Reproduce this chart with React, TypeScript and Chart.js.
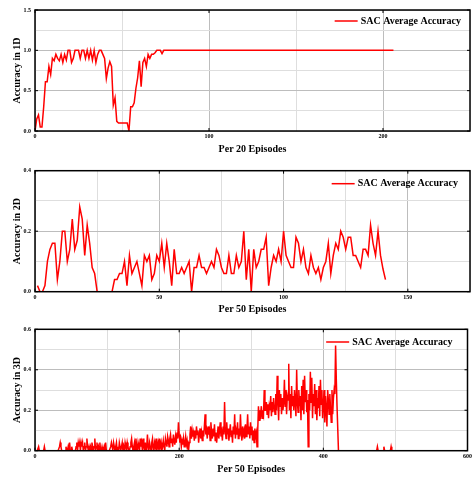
import React, { useEffect, useRef } from 'react';
import { Chart, registerables } from 'chart.js';

Chart.register(...registerables);

const SERIES_LABEL = 'SAC Average Accuracy';

// ---- 1D: accuracy per 20 episodes (x starts at 0) ----
const ACC_1D = [
  0, 0.15, 0.2, 0.05, 0.05, 0.3, 0.61, 0.61, 0.8, 0.7,
  0.9, 0.87, 0.95, 0.9, 0.87, 0.95, 0.85, 0.95, 0.88, 1,
  1, 0.85, 0.9, 1, 1, 1, 0.9, 1, 1, 0.9,
  1, 0.9, 1, 0.88, 1, 0.85, 0.95, 1, 1, 0.95,
  0.9, 0.65, 0.78, 0.86, 0.8, 0.32, 0.41, 0.12, 0.1, 0.1,
  0.1, 0.1, 0.1, 0.1, 0, 0.3, 0.3, 0.35, 0.53, 0.66,
  0.87, 0.55, 0.85, 0.9, 0.8, 0.95, 0.9, 0.95, 0.95, 0.97,
  1, 1, 1, 0.96, 1,
  1, 1, 1, 1, 1, 1, 1, 1, 1, 1,
  1, 1, 1, 1, 1, 1, 1, 1, 1, 1,
  1, 1, 1, 1, 1, 1, 1, 1, 1, 1,
  1, 1, 1, 1, 1, 1, 1, 1, 1, 1,
  1, 1, 1, 1, 1, 1, 1, 1, 1, 1,
  1, 1, 1, 1, 1, 1, 1, 1, 1, 1,
  1, 1, 1, 1, 1, 1, 1, 1, 1, 1,
  1, 1, 1, 1, 1, 1, 1, 1, 1, 1,
  1, 1, 1, 1, 1, 1, 1, 1, 1, 1,
  1, 1, 1, 1, 1, 1, 1, 1, 1, 1,
  1, 1, 1, 1, 1, 1, 1, 1, 1, 1,
  1, 1, 1, 1, 1, 1, 1, 1, 1, 1,
  1, 1, 1, 1, 1, 1, 1, 1, 1, 1,
  1, 1,
];
const X_START_1D = 0;

// ---- 2D: accuracy per 50 episodes (x starts at 1) ----
const ACC_2D = [
  0.02, 0, 0, 0.02, 0.1, 0.14, 0.16, 0.16, 0.04, 0.1,
  0.2, 0.2, 0.1, 0.14, 0.24, 0.14, 0.17, 0.28, 0.24, 0.12,
  0.22, 0.16, 0.08, 0.06, 0, 0, 0, 0, 0, 0,
  0, 0.04, 0.04, 0.06, 0.06, 0.1, 0.02, 0.12, 0.06, 0.08,
  0.1, 0.06, 0.02, 0.12, 0.1, 0.12, 0.04, 0.06, 0.12, 0.1,
  0.16, 0.08, 0.16, 0.1, 0.02, 0.14, 0.06, 0.06, 0.08, 0.06,
  0.08, 0.1, 0, 0.08, 0.08, 0.12, 0.08, 0.08, 0.06,
  0.08, 0.1, 0.08, 0.14, 0.12, 0.08, 0.06, 0.06, 0.12, 0.06,
  0.06, 0.12, 0.08, 0.1, 0.2, 0.04, 0.14, 0, 0.14, 0.08,
  0.1, 0.14, 0.14, 0.18, 0.02, 0.08, 0.12, 0.1, 0.14, 0.1,
  0.2, 0.12, 0.1, 0.08, 0.08, 0.18, 0.16, 0.1, 0.14, 0.08,
  0.06, 0.12, 0.08, 0.06, 0.08, 0.04, 0.08, 0.1, 0.16, 0.06,
  0.12, 0.16, 0.14, 0.2, 0.18, 0.14, 0.18, 0.18, 0.12, 0.12,
  0.1, 0.08, 0.14, 0.14, 0.12, 0.22, 0.16, 0.12, 0.2, 0.12,
  0.075, 0.04,
];
const X_START_2D = 1;

// ---- 3D: accuracy per 50 episodes (x starts at 0) ----
const ACC_3D = [
  0, 0, 0, 0, 0, 0.02, 0, 0, 0, 0, 0, 0, 0, 0.02, 0, 0, 0, 0, 0, 0,
  0, 0, 0, 0, 0, 0, 0, 0, 0, 0, 0, 0, 0, 0, 0.02, 0.04, 0.02, 0, 0, 0,
  0, 0, 0, 0.02, 0, 0, 0.02, 0, 0.04, 0, 0, 0.02, 0, 0, 0, 0, 0, 0.02, 0.04, 0,
  0.04, 0.02, 0.04, 0, 0.04, 0.02, 0.04, 0, 0.02, 0.04, 0, 0.02, 0.06, 0.02, 0, 0.02, 0, 0.02, 0, 0.04,
  0.02, 0, 0.02, 0.06, 0, 0.02, 0.04, 0, 0.02, 0, 0.04, 0, 0, 0.02, 0, 0, 0.02, 0, 0.04, 0,
  0, 0, 0, 0, 0, 0.02, 0.04, 0.02, 0, 0.04, 0.02, 0, 0.02, 0.04, 0, 0.02, 0, 0.04, 0.02, 0,
  0.02, 0.04, 0, 0.02, 0, 0.04, 0.02, 0, 0.04, 0.02, 0, 0, 0.02, 0.04, 0.06, 0.02, 0, 0.02, 0.04, 0,
  0.06, 0.02, 0, 0.04, 0.02, 0, 0.06, 0.02, 0.04, 0, 0.06, 0.02, 0, 0.04, 0, 0.02, 0.08, 0.02, 0, 0.04,
  0.02, 0, 0.04, 0.06, 0.02, 0, 0.04, 0.02, 0.06, 0, 0.02, 0.04, 0, 0.06, 0.02, 0.04, 0, 0.02, 0.05, 0.02,
  0, 0.06, 0.04, 0.02, 0.07, 0.05, 0.02, 0.06, 0.08, 0.04, 0.06, 0.02, 0.08, 0.05, 0.03, 0.07, 0.04, 0.09, 0.06, 0.14,
  0.08, 0.04, 0.06, 0.02, 0.05, 0.03, 0.06, 0.02, 0.04, 0.07, 0.03, 0.05, 0.01, 0, 0.04, 0.08, 0.12, 0.06, 0.1, 0.07,
  0.09, 0.05, 0.1, 0.06, 0.12, 0.08, 0.1, 0.04, 0.08, 0.11, 0.06, 0.09, 0.05, 0.1, 0.07, 0.12, 0.18, 0.08, 0.1, 0.06,
  0.12, 0.08, 0.1, 0.05, 0.14, 0.09, 0.06, 0.11, 0.07, 0.13, 0.05, 0.09, 0.04, 0.08, 0.12, 0.06, 0.1, 0.14, 0.07, 0.09,
  0.05, 0.12, 0.08, 0.24, 0.1, 0.06, 0.14, 0.08, 0.11, 0.05, 0.09, 0.13, 0.07, 0.1, 0.04, 0.12, 0.08, 0.18, 0.06, 0.1,
  0.08, 0.14, 0.06, 0.11, 0.07, 0.18, 0.09, 0.05, 0.12, 0.08, 0.1, 0.06, 0.13, 0.07, 0.1, 0.18, 0.08, 0.12, 0.06, 0.14,
  0.08, 0.12, 0.05, 0.1, 0.04, 0.11, 0.07, 0.09, 0.02, 0.1, 0.22, 0.15, 0.2, 0.18, 0.22, 0.16, 0.2, 0.18, 0.3, 0.2,
  0.2, 0.24, 0.18, 0.23, 0.16, 0.22, 0.2, 0.27, 0.17, 0.24, 0.19, 0.26, 0.22, 0.18, 0.28, 0.2, 0.37, 0.25, 0.15, 0.3,
  0.22, 0.28, 0.18, 0.26, 0.2, 0.24, 0.35, 0.22, 0.3, 0.18, 0.27, 0.25, 0.43, 0.2, 0.28, 0.16, 0.32, 0.22, 0.27, 0.2,
  0.3, 0.24, 0.17, 0.4, 0.24, 0.19, 0.3, 0.22, 0.27, 0.15, 0.32, 0.2, 0.35, 0.18, 0.37, 0.24, 0.3, 0.19, 0.25, 0.02,
  0.28, 0.2, 0.39, 0.24, 0.36, 0.16, 0.28, 0.22, 0.33, 0.18, 0.3, 0.15, 0.26, 0.21, 0.32, 0.17, 0.35, 0.23, 0.3, 0.16,
  0.22, 0.3, 0.14, 0.27, 0.2, 0.12, 0.3, 0.25, 0.18, 0.28, 0.21, 0.14, 0.3, 0.18, 0.26, 0.3, 0.28, 0.52, 0.35, 0.22,
  0.22, 0, 0, 0, 0, 0, 0, 0, 0, 0, 0, 0, 0, 0, 0, 0, 0, 0, 0, 0,
  0, 0, 0, 0, 0, 0, 0, 0, 0, 0, 0, 0, 0, 0, 0, 0, 0, 0, 0, 0,
  0, 0, 0, 0, 0, 0, 0, 0, 0, 0, 0, 0, 0, 0, 0, 0.02, 0, 0, 0, 0,
  0, 0, 0, 0, 0.02, 0, 0, 0, 0, 0, 0, 0, 0, 0, 0.02, 0,
];
const X_START_3D = 0;

// ---- axes: ranges, grid steps and labelled ticks ----
const X_MAX_1D = 250, X_STEP_1D = 50, X_LABELS_1D = [0, 100, 200];
const Y_MAX_1D = 1.5, Y_STEP_1D = 0.25, Y_LABELS_1D = [0, 0.5, 1.0, 1.5];
const X_MAX_2D = 175, X_STEP_2D = 25, X_LABELS_2D = [0, 50, 100, 150];
const Y_MAX_2D = 0.4, Y_STEP_2D = 0.1, Y_LABELS_2D = [0, 0.2, 0.4];
const X_MAX_3D = 600, X_STEP_3D = 100, X_LABELS_3D = [0, 200, 400, 600];
const Y_MAX_3D = 0.6, Y_STEP_3D = 0.1, Y_LABELS_3D = [0, 0.2, 0.4, 0.6];

const X_TITLES = ['Per 20 Episodes', 'Per 50 Episodes', 'Per 50 Episodes'];
const Y_TITLES = ['Accuracy in 1D', 'Accuracy in 2D', 'Accuracy in 3D'];

const FONT = '"Liberation Serif", "Times New Roman", serif';
const RED = '#ff0000';

const hasTick = (arr: number[], v: number) => arr.some((t) => Math.abs(t - v) < 1e-6);

const framePlugin = {
  id: 'frame',
  afterDatasetsDraw(chart: any) {
    const { ctx, chartArea: a, scales } = chart;
    const opts = chart.options.plugins.frame;
    ctx.save();
    ctx.strokeStyle = '#000';
    ctx.lineWidth = 1;
    ctx.beginPath();
    const tl = 3;
    opts.xLabels.forEach((v: number) => {
      const px = scales.x.getPixelForValue(v);
      ctx.moveTo(px, a.bottom); ctx.lineTo(px, a.bottom - tl);
      ctx.moveTo(px, a.top); ctx.lineTo(px, a.top + tl);
    });
    opts.yLabels.forEach((v: number) => {
      const py = scales.y.getPixelForValue(v);
      ctx.moveTo(a.left, py); ctx.lineTo(a.left + tl, py);
      ctx.moveTo(a.right, py); ctx.lineTo(a.right - tl, py);
    });
    ctx.stroke();
    ctx.lineWidth = 1.5;
    ctx.strokeRect(a.left, a.top, a.right - a.left, a.bottom - a.top);
    ctx.restore();
  },
};

const legendPlugin = {
  id: 'insideLegend',
  afterDraw(chart: any) {
    const { ctx, chartArea: a } = chart;
    const opts = chart.options.plugins.insideLegend;
    const ds = chart.data.datasets[0];
    ctx.save();
    ctx.font = `bold ${opts.size}px ${FONT}`;
    ctx.textBaseline = 'middle';
    ctx.textAlign = 'left';
    const tw = ctx.measureText(ds.label).width;
    const tx = a.right - opts.right - tw;
    const y = a.top + opts.dy;
    ctx.strokeStyle = ds.borderColor;
    ctx.lineWidth = 1.5;
    ctx.beginPath();
    ctx.moveTo(tx - 3 - 23, y);
    ctx.lineTo(tx - 3, y);
    ctx.stroke();
    ctx.fillStyle = '#000';
    ctx.fillText(ds.label, tx, y);
    ctx.restore();
  },
};

type Spec = {
  values: number[]; xStart: number;
  xMax: number; xStep: number; xLabels: number[];
  yMax: number; yStep: number; yLabels: number[];
  xTitle: string; yTitle: string;
  padTop: number; xAxisHeight: number; titlePadBottom: number;
  legendRight: number; legendDy: number;
};

function makeConfig(s: Spec): any {
  return {
    type: 'line',
    data: {
      datasets: [{
        label: SERIES_LABEL,
        data: s.values.map((y, i) => ({ x: i + s.xStart, y })),
        borderColor: RED,
        backgroundColor: RED,
        borderWidth: 1.5,
        pointRadius: 0,
        tension: 0,
        fill: false,
      }],
    },
    options: {
      animation: false,
      responsive: false,
      devicePixelRatio: 1,
      events: [],
      layout: { padding: { top: s.padTop, right: 4, left: 0, bottom: 0 } },
      plugins: {
        legend: { display: false },
        tooltip: { enabled: false },
        frame: { xLabels: s.xLabels, yLabels: s.yLabels },
        insideLegend: { size: 10, right: s.legendRight, dy: s.legendDy },
      },
      scales: {
        x: {
          type: 'linear',
          min: 0, max: s.xMax,
          afterFit: (sc: any) => { sc.height = s.xAxisHeight; },
          border: { display: false },
          grid: {
            drawTicks: false,
            lineWidth: 1,
            color: (c: any) => (hasTick(s.xLabels, c.tick.value) ? '#bdbdbd' : '#dedede'),
          },
          ticks: {
            stepSize: s.xStep,
            autoSkip: false,
            maxRotation: 0,
            padding: 2,
            color: '#000',
            font: { family: FONT, size: 6, weight: 'bold' },
            callback: (v: number) => (hasTick(s.xLabels, v) ? String(Math.round(v)) : ''),
          },
          title: {
            display: true,
            text: s.xTitle,
            color: '#000',
            font: { family: FONT, size: 10, weight: 'bold' },
            padding: { top: 0, bottom: s.titlePadBottom },
          },
        },
        y: {
          type: 'linear',
          min: 0, max: s.yMax,
          afterFit: (sc: any) => { sc.width = 35; },
          border: { display: false },
          grid: {
            drawTicks: false,
            lineWidth: 1,
            color: (c: any) => (hasTick(s.yLabels, c.tick.value) ? '#bdbdbd' : '#dedede'),
          },
          ticks: {
            stepSize: s.yStep,
            autoSkip: false,
            padding: 4,
            color: '#000',
            font: { family: FONT, size: 6, weight: 'bold' },
            callback: (v: number) => (hasTick(s.yLabels, v) ? Number(v).toFixed(1) : ''),
          },
          title: {
            display: true,
            text: s.yTitle,
            color: '#000',
            font: { family: FONT, size: 10, weight: 'bold' },
            padding: { top: 11.5, bottom: 0 },
          },
        },
      },
    },
    plugins: [framePlugin, legendPlugin],
  };
}

const SPECS: { spec: Spec; top: number; height: number }[] = [
  {
    top: 0, height: 160,
    spec: {
      values: ACC_1D, xStart: X_START_1D,
      xMax: X_MAX_1D, xStep: X_STEP_1D, xLabels: X_LABELS_1D,
      yMax: Y_MAX_1D, yStep: Y_STEP_1D, yLabels: Y_LABELS_1D,
      xTitle: X_TITLES[0], yTitle: Y_TITLES[0],
      padTop: 10, xAxisHeight: 29, titlePadBottom: 4.5,
      legendRight: 9, legendDy: 11,
    },
  },
  {
    top: 160, height: 160,
    spec: {
      values: ACC_2D, xStart: X_START_2D,
      xMax: X_MAX_2D, xStep: X_STEP_2D, xLabels: X_LABELS_2D,
      yMax: Y_MAX_2D, yStep: Y_STEP_2D, yLabels: Y_LABELS_2D,
      xTitle: X_TITLES[1], yTitle: Y_TITLES[1],
      padTop: 10.7, xAxisHeight: 28.3, titlePadBottom: 4.5,
      legendRight: 12, legendDy: 13,
    },
  },
  {
    top: 320, height: 158,
    spec: {
      values: ACC_3D, xStart: X_START_3D,
      xMax: X_MAX_3D, xStep: X_STEP_3D, xLabels: X_LABELS_3D,
      yMax: Y_MAX_3D, yStep: Y_STEP_3D, yLabels: Y_LABELS_3D,
      xTitle: X_TITLES[2], yTitle: Y_TITLES[2],
      padTop: 9.3, xAxisHeight: 27.3, titlePadBottom: 2.5,
      legendRight: 15, legendDy: 12.7,
    },
  },
];

function Panel({ spec, top, height }: { spec: Spec; top: number; height: number }) {
  const ref = useRef<HTMLCanvasElement>(null);
  useEffect(() => {
    if (!ref.current) return;
    const chart = new Chart(ref.current, makeConfig(spec));
    return () => chart.destroy();
  }, [spec]);
  return (
    <canvas
      ref={ref}
      width={474}
      height={height}
      style={{ position: 'absolute', left: 0, top, width: 474, height, display: 'block' }}
    />
  );
}

export default function App() {
  return (
    <div style={{ position: 'absolute', left: 0, top: 0, width: 474, height: 478, background: '#fff' }}>
      {SPECS.map((p, i) => (
        <Panel key={i} spec={p.spec} top={p.top} height={p.height} />
      ))}
    </div>
  );
}
